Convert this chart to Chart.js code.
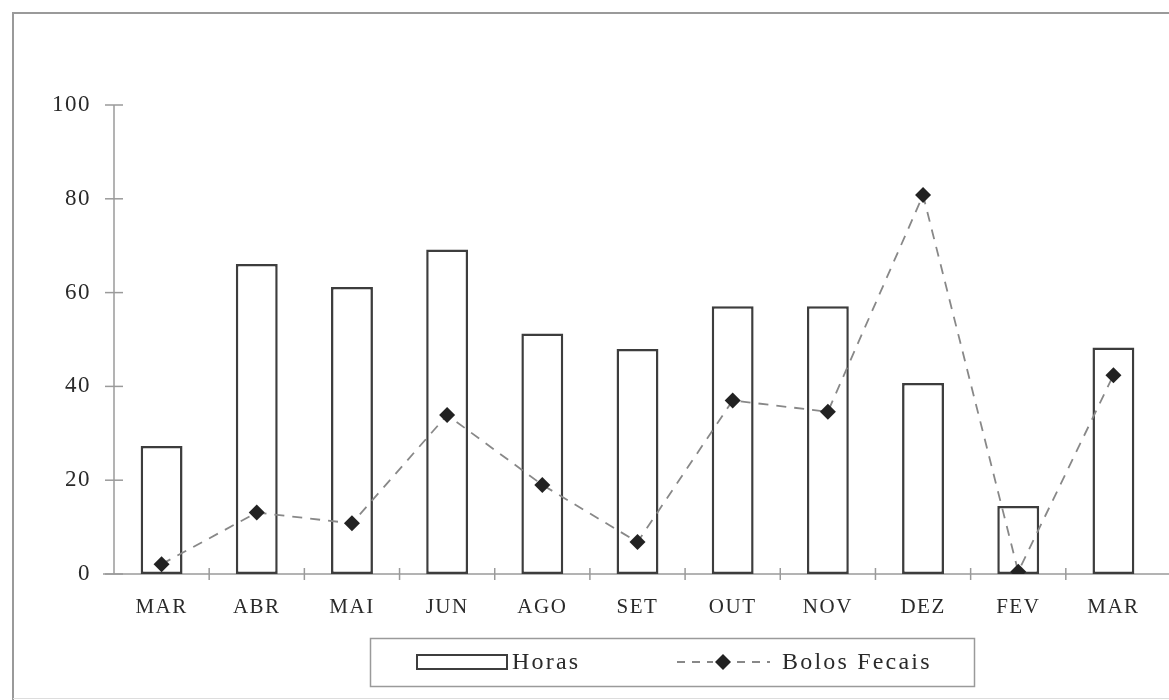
<!DOCTYPE html>
<html>
<head>
<meta charset="utf-8">
<script src="https://cdn.jsdelivr.net/npm/chart.js@4/dist/chart.umd.min.js"></script>
<style>
  html, body { margin: 0; padding: 0; background: #fff; }
  #wrap { width: 1169px; height: 700px; position: relative; }
</style>
</head>
<body>
<div id="wrap"><canvas id="c" width="1169" height="700"></canvas></div>
<script>
// Monthly hours (bars) and faecal pellet counts (dashed line)
const categories = ['MAR', 'ABR', 'MAI', 'JUN', 'AGO', 'SET', 'OUT', 'NOV', 'DEZ', 'FEV', 'MAR'];
const horas = [27.3, 66.1, 61.2, 69.2, 51.3, 48.0, 57.1, 57.1, 40.7, 14.5, 48.3];
const bolosFecais = [2.1, 13.1, 10.8, 33.9, 19.0, 6.8, 37.0, 34.6, 80.8, 0.5, 42.4];
const yTicks = [0, 20, 40, 60, 80, 100];
const seriesNames = ['Horas', 'Bolos Fecais'];

const SERIF = "'Liberation Serif', 'Times New Roman', serif";
const AXIS_GREY = '#9a9a9a';
const BAR_EDGE = '#3d3d3d';
const LINE_GREY = '#888888';
const MARKER = '#222222';
const TEXT = '#2a2a2a';

// Frame, axis lines and cross ticks drawn under the bars
const axesPlugin = {
  id: 'axesPlugin',
  beforeDraw(chart) {
    const ctx = chart.ctx;
    ctx.save();
    ctx.fillStyle = '#fff';
    ctx.fillRect(0, 0, chart.width, chart.height);
    ctx.strokeStyle = AXIS_GREY;
    ctx.lineWidth = 2;
    ctx.beginPath();
    ctx.moveTo(13, chart.height);
    ctx.lineTo(13, 13);
    ctx.lineTo(chart.width, 13);
    ctx.stroke();
    ctx.strokeStyle = '#dddddd';
    ctx.lineWidth = 1;
    ctx.beginPath();
    ctx.moveTo(13, chart.height - 1.5);
    ctx.lineTo(chart.width, chart.height - 1.5);
    ctx.stroke();
    ctx.restore();
  },
  beforeDatasetsDraw(chart) {
    const ctx = chart.ctx;
    const x = chart.scales.x, y = chart.scales.y;
    const area = chart.chartArea;
    ctx.save();
    ctx.strokeStyle = AXIS_GREY;
    ctx.lineWidth = 1.5;
    // y axis
    ctx.beginPath();
    ctx.moveTo(area.left, y.getPixelForValue(yTicks[yTicks.length - 1]));
    ctx.lineTo(area.left, y.getPixelForValue(0));
    ctx.stroke();
    yTicks.forEach(v => {
      const py = y.getPixelForValue(v);
      ctx.beginPath();
      ctx.moveTo(area.left - 9, py);
      ctx.lineTo(area.left + 9, py);
      ctx.stroke();
    });
    // x axis
    const y0 = y.getPixelForValue(0);
    ctx.beginPath();
    ctx.moveTo(area.left - 11, y0);
    ctx.lineTo(chart.width, y0);
    ctx.stroke();
    const step = x.getPixelForValue(1) - x.getPixelForValue(0);
    for (let i = 1; i < categories.length; i++) {
      const px = x.getPixelForValue(i) - step / 2;
      ctx.beginPath();
      ctx.moveTo(px, y0 - 6);
      ctx.lineTo(px, y0 + 6);
      ctx.stroke();
    }
    ctx.restore();
  },
  afterDraw(chart) {
    // Boxed legend below the axis
    const ctx = chart.ctx;
    ctx.save();
    ctx.strokeStyle = AXIS_GREY;
    ctx.lineWidth = 1.5;
    ctx.strokeRect(370.5, 638.5, 604, 48);

    const cy = 662;
    ctx.fillStyle = '#fff';
    ctx.fillRect(417, 655, 90, 14);
    ctx.strokeStyle = BAR_EDGE;
    ctx.lineWidth = 2;
    ctx.strokeRect(417, 655, 90, 14);

    ctx.font = '24px ' + SERIF;
    ctx.letterSpacing = '2.2px';
    ctx.fillStyle = TEXT;
    ctx.textBaseline = 'middle';
    ctx.textAlign = 'left';
    ctx.fillText(seriesNames[0], 512, cy + 1);

    ctx.strokeStyle = LINE_GREY;
    ctx.lineWidth = 1.8;
    ctx.setLineDash([8, 7]);
    ctx.beginPath();
    ctx.moveTo(677, cy);
    ctx.lineTo(770, cy);
    ctx.stroke();
    ctx.setLineDash([]);
    ctx.fillStyle = '#fff';
    ctx.fillRect(713, cy - 9, 20, 18);
    ctx.fillStyle = MARKER;
    ctx.beginPath();
    ctx.moveTo(723, cy - 8);
    ctx.lineTo(731, cy);
    ctx.lineTo(723, cy + 8);
    ctx.lineTo(715, cy);
    ctx.closePath();
    ctx.fill();

    ctx.fillStyle = TEXT;
    ctx.fillText(seriesNames[1], 782, cy + 1);
    ctx.restore();
  }
};

new Chart(document.getElementById('c'), {
  data: {
    labels: categories,
    datasets: [
      {
        type: 'line',
        label: seriesNames[1],
        data: bolosFecais,
        borderColor: LINE_GREY,
        borderWidth: 1.8,
        borderDash: [10, 8],
        pointStyle: 'rectRot',
        pointRadius: 8,
        pointBackgroundColor: MARKER,
        pointBorderColor: MARKER,
        pointBorderWidth: 0,
        tension: 0,
        order: 0
      },
      {
        type: 'bar',
        label: seriesNames[0],
        data: horas,
        backgroundColor: '#ffffff',
        borderColor: BAR_EDGE,
        borderWidth: 2.5,
        borderSkipped: false,
        barPercentage: 0.44,
        categoryPercentage: 1,
        order: 1
      }
    ]
  },
  options: {
    responsive: false,
    animation: false,
    layout: { padding: { left: 0, right: 0, top: 105, bottom: 0 } },
    plugins: {
      legend: { display: false },
      tooltip: { enabled: false }
    },
    scales: {
      x: {
        type: 'category',
        grid: { display: false, drawTicks: false },
        border: { display: false },
        ticks: {
          font: { family: SERIF, size: 21 },
          color: TEXT,
          padding: 21,
          maxRotation: 0,
          autoSkip: false
        },
        afterFit(scale) { scale.height = 126; }
      },
      y: {
        min: 0,
        max: 100,
        grid: { display: false, drawTicks: false },
        border: { display: false },
        afterBuildTicks(scale) { scale.ticks = yTicks.map(v => ({ value: v })); },
        ticks: {
          font: { family: SERIF, size: 23 },
          color: TEXT,
          padding: 23
        },
        afterFit(scale) { scale.width = 114; }
      }
    }
  },
  plugins: [axesPlugin, {
    id: 'spacing',
    beforeDraw(chart) { chart.ctx.letterSpacing = '1.5px'; }
  }]
});
</script>
</body>
</html>
